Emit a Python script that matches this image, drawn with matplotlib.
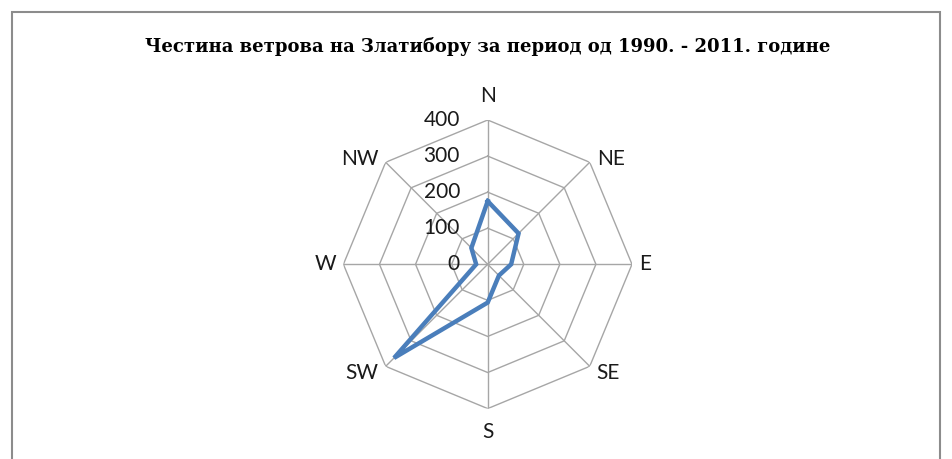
import numpy as np
import matplotlib
matplotlib.use("Agg")
import matplotlib.pyplot as plt
from matplotlib.patches import Rectangle

title = "Честина ветрова на Златибору за период од 1990. - 2011. године"
directions = ["N", "NE", "E", "SE", "S", "SW", "W", "NW"]
values = [175, 121, 65, 44, 106, 367, 32, 64]
rticks = [0, 100, 200, 300, 400]

fig = plt.figure(figsize=(9.52, 4.59), dpi=100)
fig.patch.set_facecolor("white")

# outer chart border
fig.patches.append(Rectangle((12/952, -0.1), (940-12)/952, 1.1 - 12/459,
                             transform=fig.transFigure, fill=False,
                             edgecolor="#8c8c8c", linewidth=1.5))

fig.text(488/952, 1 - 46/459, title, ha="center", va="center",
         fontsize=13.0, fontweight="bold", family="DejaVu Serif")

cx, cy, R = 487.7, 264.3, 144.3
ax = fig.add_axes([(cx - R)/952, 1 - (cy + R)/459, 2*R/952, 2*R/459],
                  projection="polar")
ax.set_theta_offset(np.pi/2)
ax.set_theta_direction(-1)
ax.set_ylim(0, rticks[-1])
ax.grid(False)
ax.set_xticks([])
ax.set_yticks([])
ax.spines["polar"].set_visible(False)
ax.patch.set_alpha(0)

n = len(directions)
theta = np.arange(n) * 2*np.pi/n
theta_c = np.append(theta, theta[0])

gc = "#a6a6a6"
for r in rticks[1:]:
    ax.plot(theta_c, [r]*(n+1), color=gc, lw=1.0, zorder=1)
for t in theta:
    ax.plot([t, t], [0, rticks[-1]], color=gc, lw=1.0, zorder=1)

vals_c = values + values[:1]
ax.plot(theta_c, vals_c, color="#4a7ebb", lw=3.2, solid_joinstyle="miter", zorder=3)

for r in rticks:
    ax.annotate(str(r), xy=(0, r), xytext=(-20, 0), textcoords="offset points",
                ha="right", va="center", fontsize=15, family="Lato", color="#1a1a1a")

offsets = {
    "N": ((0, 10), "center", "bottom"),
    "NE": ((5, 2), "left", "center"),
    "E": ((5, 0), "left", "center"),
    "SE": ((5, -5), "left", "center"),
    "S": ((0, -10), "center", "top"),
    "SW": ((-5, -5), "right", "center"),
    "W": ((-5, 0), "right", "center"),
    "NW": ((-5, 2), "right", "center"),
}
for t, d in zip(theta, directions):
    off, ha, va = offsets[d]
    ax.annotate(d, xy=(t, rticks[-1]), xytext=off, textcoords="offset points",
                ha=ha, va=va, fontsize=15, family="Lato", color="#1a1a1a",
                annotation_clip=False)

fig.savefig("out.png", dpi=100)
